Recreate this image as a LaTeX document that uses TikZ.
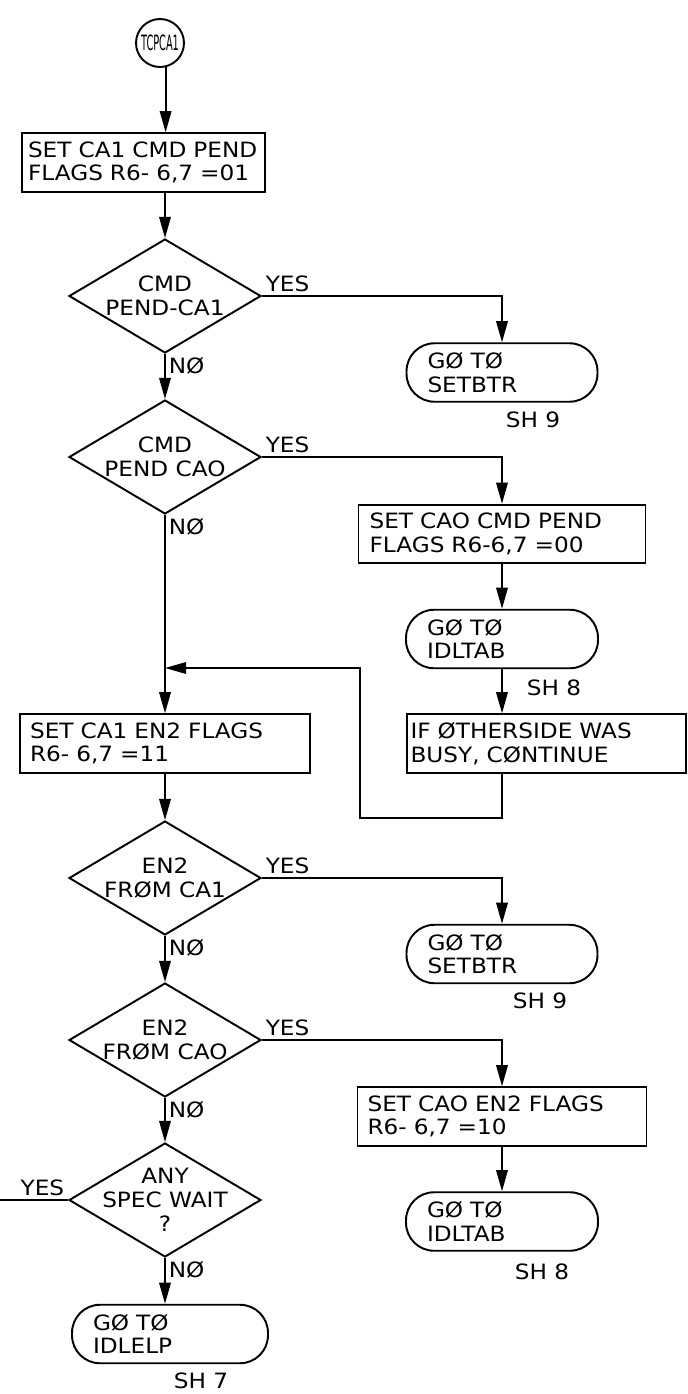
\documentclass[tikz,border=0pt]{standalone}
\usepackage{fontspec}
\setmainfont{DejaVu Sans}[FakeStretch=1.1]
\usetikzlibrary{shapes.geometric,arrows.meta,positioning}
\tikzset{
  procbox/.style={rectangle, draw, line width=1.1pt, align=left,
                  inner xsep=0.25cm, inner ysep=0pt, minimum height=1.17cm, text width=#1},
  termbox/.style={rectangle, draw, line width=1.1pt, rounded corners=0.56cm, align=left,
                  inner xsep=0.42cm, inner ysep=0pt, minimum height=1.17cm, text width=#1},
  decbox/.style={diamond, draw, line width=1.1pt, align=center, aspect=1.68,
                 inner xsep=-0.35cm, inner ysep=-0.25cm, minimum width=3.84cm, minimum height=2.28cm},
  startnode/.style={circle, draw, line width=1.1pt, inner sep=0pt, minimum size=0.96cm},
  flow/.style={line width=1.1pt, -{Triangle[length=12pt,width=6.5pt]}},
  flowline/.style={line width=1.1pt},
  ynlabel/.style={inner sep=2pt},
  shlabel/.style={inner sep=0pt},
}
\begin{document}
\begin{tikzpicture}[x=0.02cm, y=-0.02cm, font=\fontsize{12}{13.5}\selectfont]
  \useasboundingbox (0,0) rectangle (687,1394);

  % Entry and CMD pending checks
  \node[startnode] (start) at (160,43) {\scalebox{0.42}[1]{TCPCA1}};
  \node[procbox=4.62cm, inner xsep=0.12cm] (pendA) at (143.5,162.5) {SET CA1 CMD PEND\\FLAGS R6- 6,7 =01};
  \node[decbox] (cmdA) at (165,296) {CMD\\PEND-CA1};
  \node[termbox=2.98cm] (btrA) at (502,372.5) {GØ TØ\\SETBTR};
  \node[shlabel] (shA) at ([xshift=0.62cm,yshift=-0.34cm]btrA.south) {SH 9};
  \node[decbox] (cmdB) at (165,457) {CMD\\PEND CAO};
  \node[procbox=5.3cm, inner xsep=0.22cm] (pendB) at (502,534) {SET CAO CMD PEND\\FLAGS R6-6,7 =00};
  \node[termbox=3.0cm] (tabA) at (502,639) {GØ TØ\\IDLTAB};
  \node[shlabel] (shB) at ([xshift=1.04cm,yshift=-0.38cm]tabA.south) {SH 8};
  \node[procbox=5.44cm, inner xsep=0.07cm] (other) at (546.5,743.5) {IF ØTHERSIDE WAS\\BUSY, CØNTINUE};

  % EN2 checks
  \node[procbox=5.4cm, inner xsep=0.2cm] (en2A) at (165,743.5) {SET CA1 EN2 FLAGS\\R6- 6,7 =11};
  \node[decbox] (en2chkA) at (165,878) {EN2\\FRØM CA1};
  \node[termbox=2.98cm] (btrB) at (502,954) {GØ TØ\\SETBTR};
  \node[shlabel] (shC) at ([xshift=0.76cm,yshift=-0.34cm]btrB.south) {SH 9};
  \node[decbox] (en2chkB) at (165,1040) {EN2\\FRØM CAO};
  \node[procbox=5.38cm, inner xsep=0.2cm] (en2B) at (502,1116.5) {SET CAO EN2 FLAGS\\R6- 6,7 =10};
  \node[termbox=3.0cm] (tabB) at (502,1221.5) {GØ TØ\\IDLTAB};
  \node[shlabel] (shD) at ([xshift=0.8cm,yshift=-0.4cm]tabB.south) {SH 8};
  \node[decbox] (spec) at (165,1200) {ANY\\SPEC WAIT\\?};
  \node[termbox=3.08cm] (idle) at (170,1334) {GØ TØ\\IDLELP};
  \node[shlabel] (shE) at ([xshift=0.62cm,yshift=-0.34cm]idle.south) {SH 7};

  % YES / NO labels
  \node[ynlabel, above right] (yesA) at (cmdA.east) {YES};
  \node[ynlabel, below right] (noA) at (cmdA.south) {NØ};
  \node[ynlabel, above right] (yesB) at (cmdB.east) {YES};
  \node[ynlabel, below right] (noB) at (cmdB.south) {NØ};
  \node[ynlabel, above right] (yesC) at (en2chkA.east) {YES};
  \node[ynlabel, below right] (noC) at (en2chkA.south) {NØ};
  \node[ynlabel, above right] (yesD) at (en2chkB.east) {YES};
  \node[ynlabel, below right] (noD) at (en2chkB.south) {NØ};
  \node[ynlabel, above left] (yesE) at (spec.west) {YES};
  \node[ynlabel, below right] (noE) at (spec.south) {NØ};

  % Connectors
  \coordinate (loopR) at (360,818);
  \coordinate (join) at (165,668);
  \coordinate (exitL) at (0,1200);
  \draw[flow] (start.-77) -- (start.-77 |- pendA.north);
  \draw[flow] (cmdA.north |- pendA.south) -- (cmdA.north);
  \draw[flow] (cmdA.east) -| (btrA.north);
  \draw[flow] (cmdA.south) -- (cmdB.north);
  \draw[flow] (cmdB.east) -| (pendB.north);
  \draw[flow] (pendB.south) -- (tabA.north);
  \draw[flow] (tabA.south) -- (tabA.south |- other.north);
  \draw[flow] (tabA.south |- other.south) |- (loopR) |- (join);
  \draw[flow] (cmdB.south) -- (en2A.north);
  \draw[flow] (en2A.south) -- (en2chkA.north);
  \draw[flow] (en2chkA.east) -| (btrB.north);
  \draw[flow] (en2chkA.south) -- (en2chkB.north);
  \draw[flow] (en2chkB.east) -| (en2B.north);
  \draw[flow] (en2B.south) -- (tabB.north);
  \draw[flow] (en2chkB.south) -- (spec.north);
  \draw[flow] (spec.south) -- (spec.south |- idle.north);
  \draw[flowline] (spec.west) -- (exitL);
\end{tikzpicture}
\end{document}
